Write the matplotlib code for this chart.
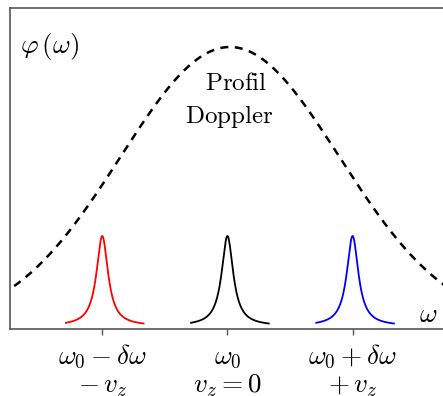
import numpy as np
import matplotlib
matplotlib.use("Agg")
import matplotlib.pyplot as plt

plt.rcParams['mathtext.fontset'] = 'cm'
plt.rcParams['font.family'] = ['DejaVu Serif']

# Parameters of the drawn profiles (data units)
doppler_center = 0.02
doppler_sigma = 0.874
doppler_amp = 1.0

line_centers = [-1.0, 0.0, 1.0]
line_colors = ['red', 'black', 'blue']
line_gamma = 0.056
line_amp = 0.3226
line_lo, line_hi = -0.29, 0.33

tick_positions = [-1.0, 0.0, 1.0]
tick_line1 = [r'$\omega_0-\delta\omega$', r'$\omega_0$', r'$\omega_0+\delta\omega$']
tick_line2 = [r'$-\,v_z$', r'$v_z=0$', r'$+\,v_z$']

W, H = 443, 396
fig = plt.figure(figsize=(W/100, H/100), dpi=100)
ax = fig.add_axes([10/W, 1-329/H, 1.005-10/W, (329-8)/H])

xg = np.linspace(-1.8, 1.8, 600)
yg = doppler_amp*np.exp(-(xg-doppler_center)**2/(2*doppler_sigma**2))
ax.plot(xg, yg, color='black', lw=1.8, dashes=(3.2, 2.6))

for c, col in zip(line_centers, line_colors):
    xl = np.linspace(c+line_lo, c+line_hi, 400)
    yl = line_amp/(1+((xl-c)/line_gamma)**2)
    ax.plot(xl, yl, color=col, lw=1.3)

ax.set_xlim(-1.737, 1.74)
ax.set_ylim(-3/279, 318/279)
ax.set_yticks([])
ax.set_xticks(tick_positions)
ax.set_xticklabels([])
ax.tick_params(axis='x', length=4, width=1, color='#555555')
for s in ax.spines.values():
    s.set_color('#555555')
    s.set_linewidth(1.2)
ax.spines['right'].set_visible(False)

def fy(py):
    # figure pixel row (from top) -> figure fraction
    return 1 - py/H

def fx(px):
    return px/W

# tick label lines, centred under each tick
tr_x = ax.transData
for xp, l1, l2 in zip(tick_positions, tick_line1, tick_line2):
    xpix = ax.transData.transform((xp, 0))[0]
    fig.text(xpix/W, fy(363), l1, fontsize=19.5, ha='center', va='baseline')
    fig.text(xpix/W, fy(392), l2, fontsize=19.5, ha='center', va='baseline')

fig.text(fx(20), fy(53), r'$\varphi\,(\omega)$', fontsize=19.5, ha='left', va='baseline')
fig.text(fx(236), fy(90), r'$\mathrm{Profil}$', fontsize=18, ha='center', va='baseline')
fig.text(fx(229.5), fy(123), r'$\mathrm{Doppler}$', fontsize=18, ha='center', va='baseline')
fig.text(fx(428), fy(322), r'$\omega$', fontsize=19.5, ha='center', va='baseline')

fig.savefig('out.png', dpi=100)
